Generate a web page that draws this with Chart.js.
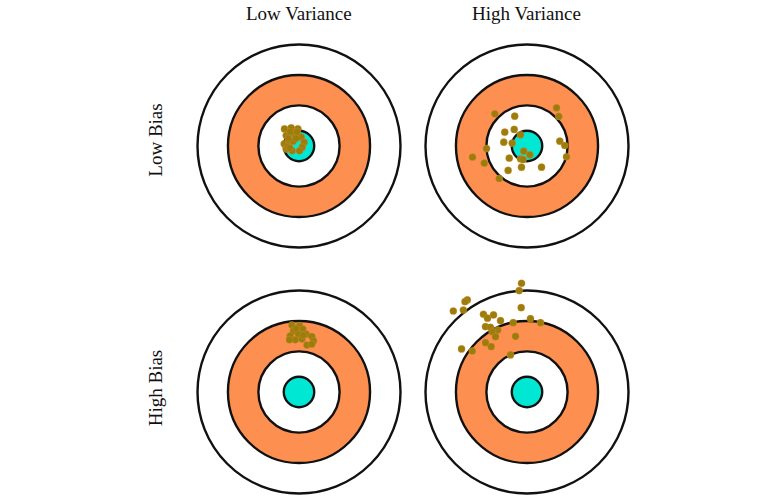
<!DOCTYPE html>
<html>
<head>
<meta charset="utf-8">
<script src="https://cdn.jsdelivr.net/npm/chart.js@4/dist/chart.umd.min.js"></script>
<style>
  html, body { margin: 0; padding: 0; background: #fff; overflow: hidden; }
  #wrap { position: relative; width: 766px; height: 500px; }
  canvas { position: absolute; }
  .lbl { position: absolute; font-family: "Liberation Serif", serif; font-size: 19px;
         line-height: 19px; color: #111; white-space: nowrap; }
</style>
</head>
<body>
<div id="wrap">
  <div class="lbl" id="t1">Low Variance</div>
  <div class="lbl" id="t2">High Variance</div>
  <div class="lbl" id="r1">Low Bias</div>
  <div class="lbl" id="r2">High Bias</div>
  <canvas id="c1" width="230" height="230"></canvas>
  <canvas id="c2" width="230" height="230"></canvas>
  <canvas id="c3" width="230" height="230"></canvas>
  <canvas id="c4" width="230" height="230"></canvas>
</div>
<script>
let colLabels = ["Low Variance", "High Variance"];
let rowLabels = ["Low Bias", "High Bias"];

// target rings, outer to inner (radius in target units)
let ringRadii = [1, 0.7, 0.4, 0.15];
let ringColors = ["#ffffff", "#fd8f50", "#ffffff", "#00e8d4"];

// shots, [x, y] relative to bullseye
let lowBiasLowVar = [
  [-0.143, 0.168], [-0.077, 0.180], [-0.011, 0.170], [-0.126, 0.103],
  [-0.044, 0.119], [0.022, 0.087], [0.051, 0.037], [-0.146, 0.021],
  [-0.094, 0.037], [-0.057, 0.047], [0.032, -0.012], [-0.126, -0.029],
  [-0.067, -0.048], [0.005, -0.048], [-0.106, 0.077], [-0.085, 0.140],
  [-0.020, 0.140], [-0.110, -0.005], [-0.030, 0.075], [-0.090, -0.020]
];
let lowBiasHighVar = [
  [-0.317, 0.317], [-0.121, 0.294], [0.291, 0.376], [0.313, 0.291],
  [-0.126, 0.163], [-0.219, 0.136], [-0.064, 0.110], [-0.229, 0.038],
  [-0.146, 0.028], [0.323, 0.048], [0.372, 0.005], [-0.399, -0.025],
  [-0.032, -0.051], [0.028, -0.087], [-0.537, -0.110], [0.389, -0.106],
  [-0.175, -0.120], [-0.064, -0.126], [-0.038, -0.133], [-0.421, -0.169],
  [-0.054, -0.209], [0.143, -0.209], [-0.186, -0.241], [-0.274, -0.320]
];
let highBiasLowVar = [
  [-0.070, 0.659], [0.005, 0.652], [0.038, 0.620], [-0.054, 0.603],
  [-0.087, 0.554], [-0.005, 0.570], [0.071, 0.570], [0.127, 0.547],
  [0.143, 0.504], [-0.037, 0.514], [0.029, 0.521], [0.078, 0.462],
  [0.127, 0.472], [-0.094, 0.514], [-0.030, 0.625], [0.040, 0.560]
];
let highBiasHighVar = [
  [-0.054, 1.071], [-0.077, 0.999], [-0.588, 0.907], [-0.611, 0.890],
  [-0.726, 0.798], [-0.627, 0.808], [-0.057, 0.831], [-0.429, 0.766],
  [-0.330, 0.759], [-0.389, 0.727], [-0.261, 0.703], [0.034, 0.722],
  [0.133, 0.683], [-0.136, 0.683], [-0.409, 0.644], [-0.360, 0.638],
  [-0.288, 0.611], [-0.343, 0.594], [-0.310, 0.545], [-0.113, 0.549],
  [-0.409, 0.486], [-0.353, 0.447], [-0.645, 0.424], [-0.539, 0.404],
  [-0.163, 0.365]
];

let shotColor = "#9a7e0c";
let colX = [298.8, 526.5];
let rowY = [145.5, 392];
let box = 230;
let span = 1.133;

// put text in place
function place(id, text, cx, cy, rotate) {
  let el = document.getElementById(id);
  el.textContent = text;
  el.style.left = cx + "px";
  el.style.top = cy + "px";
  el.style.transform = "translate(-50%,-50%)" + (rotate ? " rotate(-90deg)" : "");
}
place("t1", colLabels[0], colX[0], 13, false);
place("t2", colLabels[1], colX[1], 13, false);
place("r1", rowLabels[0], 155, 140, true);
place("r2", rowLabels[1], 155, 387.5, true);

let rings = {
  id: "rings",
  beforeDatasetsDraw(chart) {
    let ctx = chart.ctx;
    let xs = chart.scales.x, ys = chart.scales.y;
    let cx = xs.getPixelForValue(0), cy = ys.getPixelForValue(0);
    ctx.save();
    ringRadii.forEach((r, i) => {
      let rp = xs.getPixelForValue(r) - cx;
      ctx.beginPath();
      ctx.arc(cx, cy, rp, 0, Math.PI * 2);
      ctx.fillStyle = ringColors[i];
      ctx.fill();
      ctx.lineWidth = 2.4;
      ctx.strokeStyle = "#111";
      ctx.stroke();
    });
    ctx.restore();
  }
};

function target(id, shots, col, row) {
  let cv = document.getElementById(id);
  cv.style.left = (colX[col] - box / 2) + "px";
  cv.style.top = (rowY[row] - box / 2) + "px";
  new Chart(cv.getContext("2d"), {
    type: "scatter",
    data: {
      datasets: [{
        data: shots.map(p => ({ x: p[0], y: p[1] })),
        backgroundColor: shotColor,
        borderColor: "rgba(240,140,60,0.5)",
        borderWidth: 0.6,
        pointRadius: 3.6,
        clip: false,
      }],
    },
    options: {
      responsive: false,
      animation: false,
      devicePixelRatio: 1,
      layout: { padding: 0, autoPadding: false },
      plugins: { legend: { display: false }, tooltip: { enabled: false } },
      scales: {
        x: { min: -span, max: span, display: false },
        y: { min: -span, max: span, display: false },
      },
    },
    plugins: [rings],
  });
}

target("c1", lowBiasLowVar, 0, 0);
target("c2", lowBiasHighVar, 1, 0);
target("c3", highBiasLowVar, 0, 1);
target("c4", highBiasHighVar, 1, 1);
</script>
</body>
</html>
